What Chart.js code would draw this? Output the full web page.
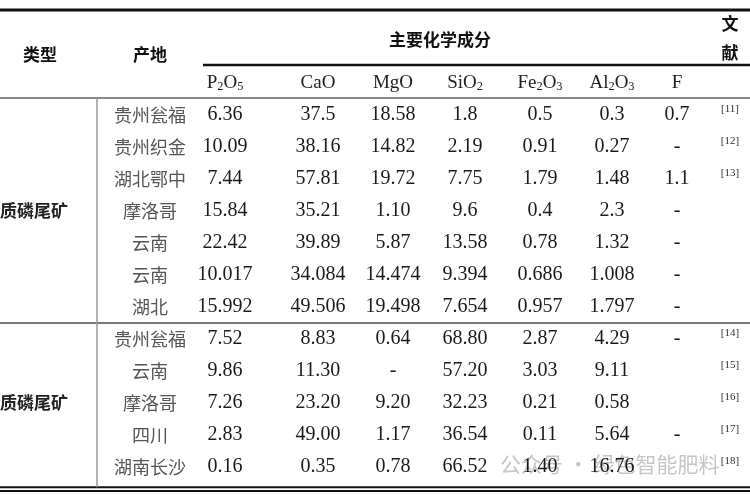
<!DOCTYPE html>
<html>
<head>
<meta charset="utf-8">
<script src="https://cdn.jsdelivr.net/npm/chart.js@4"></script>
<style>
  html, body { margin: 0; padding: 0; background: #fff; }
  #wrap { width: 750px; height: 500px; }
</style>
</head>
<body>
<div id="wrap"><canvas id="tbl"></canvas></div>
<script>
// table data
const headers = ['P_2O_5', 'CaO', 'MgO', 'SiO_2', 'Fe_2O_3', 'Al_2O_3', 'F'];
const places = ['贵州瓮福', '贵州织金', '湖北鄂中', '摩洛哥', '云南', '云南', '湖北',
                '贵州瓮福', '云南', '摩洛哥', '四川', '湖南长沙'];
const P2O5  = ['6.36', '10.09', '7.44', '15.84', '22.42', '10.017', '15.992', '7.52', '9.86', '7.26', '2.83', '0.16'];
const CaO   = ['37.5', '38.16', '57.81', '35.21', '39.89', '34.084', '49.506', '8.83', '11.30', '23.20', '49.00', '0.35'];
const MgO   = ['18.58', '14.82', '19.72', '1.10', '5.87', '14.474', '19.498', '0.64', '-', '9.20', '1.17', '0.78'];
const SiO2  = ['1.8', '2.19', '7.75', '9.6', '13.58', '9.394', '7.654', '68.80', '57.20', '32.23', '36.54', '66.52'];
const Fe2O3 = ['0.5', '0.91', '1.79', '0.4', '0.78', '0.686', '0.957', '2.87', '3.03', '0.21', '0.11', '1.40'];
const Al2O3 = ['0.3', '0.27', '1.48', '2.3', '1.32', '1.008', '1.797', '4.29', '9.11', '0.58', '5.64', '16.76'];
const F     = ['0.7', '-', '1.1', '-', '-', '-', '-', '-', '', '', '-', ''];
const refs  = ['[11]', '[12]', '[13]', '', '', '', '', '[14]', '[15]', '[16]', '[17]', '[18]'];
const groups = [{ label: '质磷尾矿', row: 3 }, { label: '质磷尾矿', row: 9 }];

const valueCols = [P2O5, CaO, MgO, SiO2, Fe2O3, Al2O3, F];
// column centres (x) for: place, 7 value columns, reference
const colX = [150, 225, 318, 393, 465, 540, 612, 677, 730];

const cells = [];
places.forEach((p, r) => {
  cells.push({ x: colX[0], y: r, t: p, kind: 'place' });
  valueCols.forEach((col, c) => cells.push({ x: colX[c + 1], y: r, t: col[r], kind: 'num' }));
  cells.push({ x: colX[8], y: r, t: refs[r], kind: 'ref' });
});

const SERIF = '"Liberation Serif", "DejaVu Serif", serif';
const CJK = '"Noto Sans CJK SC", sans-serif';

function drawSub(ctx, txt, x, y, size) {
  // "P_2O_5" -> P with subscript 2 etc.
  const parts = [];
  for (let i = 0; i < txt.length; i++) {
    if (txt[i] === '_') { parts.push({ s: txt[i + 1], sub: true }); i++; }
    else parts.push({ s: txt[i], sub: false });
  }
  const small = size * 0.65;
  let w = 0;
  parts.forEach(p => { ctx.font = (p.sub ? small : size) + 'px ' + SERIF; w += ctx.measureText(p.s).width; });
  let cx = x - w / 2;
  ctx.textAlign = 'left';
  parts.forEach(p => {
    ctx.font = (p.sub ? small : size) + 'px ' + SERIF;
    ctx.fillText(p.s, cx, p.sub ? y + size * 0.22 : y);
    cx += ctx.measureText(p.s).width;
  });
}

const tablePlugin = {
  id: 'tablePlugin',
  afterDatasetsDraw(chart) {
    const ctx = chart.ctx;
    const xs = chart.scales.x, ys = chart.scales.y;
    const Y = v => ys.getPixelForValue(v);
    ctx.save();
    ctx.textBaseline = 'middle';

    // watermark
    ctx.fillStyle = 'rgba(150,150,150,0.55)';
    ctx.font = '21px ' + CJK;
    ctx.textAlign = 'left';
    ctx.fillText('公众号 · 绿色智能肥料', 500, Y(10.9));

    // header
    ctx.fillStyle = '#111';
    ctx.textAlign = 'center';
    ctx.font = 'bold 17px ' + CJK;
    ctx.fillText('类型', 40, Y(-1.9));
    ctx.fillText('产地', xs.getPixelForValue(colX[0]), Y(-1.9));
    ctx.fillText('主要化学成分', 440, Y(-2.35));
    ctx.fillText('文', 730, Y(-2.85));
    ctx.fillText('献', 730, Y(-1.95));
    ctx.fillStyle = '#222';
    headers.forEach((h, i) => drawSub(ctx, h, xs.getPixelForValue(colX[i + 1]), Y(-1), 19));

    // group labels
    ctx.font = 'bold 17px ' + CJK;
    ctx.textAlign = 'left';
    groups.forEach(g => ctx.fillText(g.label, 0, Y(g.row)));

    // cells
    chart.getDatasetMeta(0).data.forEach((pt, i) => {
      const c = cells[i];
      if (!c.t) return;
      if (c.kind === 'place') {
        ctx.fillStyle = '#555'; ctx.font = '18px ' + CJK; ctx.textAlign = 'center';
        ctx.fillText(c.t, pt.x, pt.y);
      } else if (c.kind === 'ref') {
        ctx.fillStyle = '#333'; ctx.font = '11px ' + SERIF; ctx.textAlign = 'center';
        ctx.fillText(c.t, pt.x, pt.y - 6);
      } else {
        ctx.fillStyle = '#1a1a1a'; ctx.font = '20px ' + SERIF; ctx.textAlign = 'center';
        ctx.fillText(c.t, pt.x, pt.y);
      }
    });

    // rules
    const hline = (y, x0, x1, w, col) => {
      ctx.strokeStyle = col; ctx.lineWidth = w;
      ctx.beginPath(); ctx.moveTo(x0, y); ctx.lineTo(x1, y); ctx.stroke();
    };
    hline(Y(-3.28), 0, 750, 3, '#111');
    hline(Y(-1.56), 203, 750, 2.5, '#111');
    hline(Y(-0.53), 0, 750, 2, '#888');
    hline(Y(6.5), 0, 750, 2, '#777');
    hline(Y(11.63), 0, 750, 2, '#111');
    hline(Y(11.75), 0, 750, 2, '#111');
    ctx.strokeStyle = '#999'; ctx.lineWidth = 1.5;
    ctx.beginPath(); ctx.moveTo(97, Y(-0.53)); ctx.lineTo(97, Y(11.63)); ctx.stroke();
    ctx.restore();
  }
};

new Chart(document.getElementById('tbl'), {
  type: 'scatter',
  data: { datasets: [{ data: cells.map(c => ({ x: c.x, y: c.y })), pointRadius: 0 }] },
  options: {
    responsive: true,
    maintainAspectRatio: false,
    animation: false,
    layout: { padding: 0 },
    scales: {
      x: { type: 'linear', min: 0, max: 750, display: false },
      y: { type: 'linear', min: -3.594, max: 12.031, reverse: true, display: false }
    },
    plugins: { legend: { display: false }, tooltip: { enabled: false } }
  },
  plugins: [tablePlugin]
});
</script>
</body>
</html>
